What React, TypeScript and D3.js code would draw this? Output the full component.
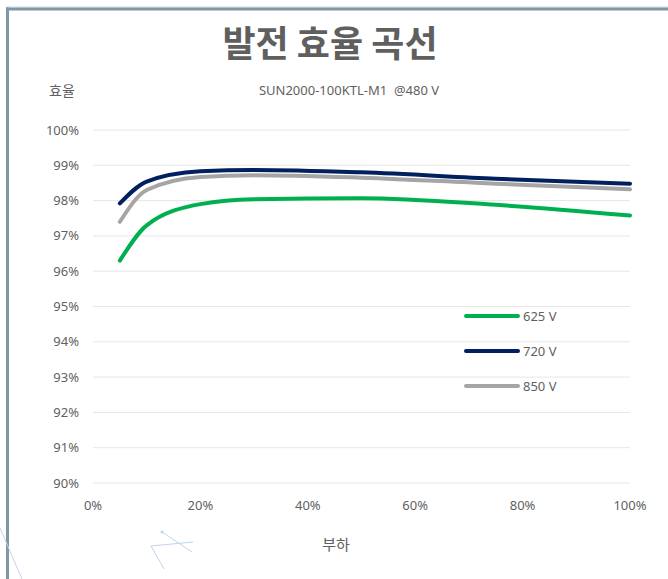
import { useEffect, useRef } from "react";
import * as d3 from "d3";

const W = 668;
const H = 579;

const title = "발전 효율 곡선";
const subtitle = "SUN2000-100KTL-M1  @480 V";
const yTitle = "효율";
const xTitle = "부하";

// load (%) and efficiency (%) per DC voltage
const loads = [5, 10, 20, 30, 50, 75, 100];
const eff625 = [96.3, 97.3, 97.9, 98.04, 98.07, 97.88, 97.58];
const eff720 = [97.92, 98.54, 98.83, 98.87, 98.8, 98.62, 98.48];
const eff850 = [97.4, 98.3, 98.67, 98.72, 98.65, 98.48, 98.32];

const seriesNames = ["625 V", "720 V", "850 V"];
const seriesColors = ["#00b050", "#002060", "#a5a5a5"];

const xTicks = [0, 20, 40, 60, 80, 100];
const yTicks = [90, 91, 92, 93, 94, 95, 96, 97, 98, 99, 100];

const KR = "'Noto Sans CJK KR', 'Noto Sans', sans-serif";
const NUM = "'Noto Sans', 'Open Sans', sans-serif";
const TEXT = "#5f5f5f";

export default function App() {
  const svgRef = useRef<SVGSVGElement>(null);

  useEffect(() => {
    const svg = d3.select(svgRef.current);
    if (!svgRef.current) return;
    svg.selectAll("*").remove();

    const x = d3.scaleLinear().domain([0, 100]).range([93, 630]);
    const y = d3.scaleLinear().domain([90, 100]).range([483, 130]);

    svg.append("rect").attr("width", W).attr("height", H).attr("fill", "#fff");

    // frame
    svg.append("line").attr("x1", 6).attr("x2", W).attr("y1", 7).attr("y2", 7)
      .attr("stroke", "#d6dde0").attr("stroke-width", 1);
    svg.append("line").attr("x1", 6).attr("x2", W).attr("y1", 9).attr("y2", 9)
      .attr("stroke", "#7f98a4").attr("stroke-width", 3);
    svg.append("line").attr("x1", 7.5).attr("x2", 7.5).attr("y1", 7.5).attr("y2", H)
      .attr("stroke", "#7f98a4").attr("stroke-width", 3);

    // decorative faint lines bottom-left
    const deco = svg.append("g").attr("stroke", "#c3d3ec").attr("stroke-width", 1).attr("fill", "none");
    deco.append("line").attr("x1", 0).attr("y1", 528).attr("x2", 22).attr("y2", 579);
    deco.append("line").attr("x1", 151).attr("y1", 546).attr("x2", 193).attr("y2", 542);
    deco.append("line").attr("x1", 162).attr("y1", 532).attr("x2", 192).attr("y2", 552);
    deco.append("line").attr("x1", 151).attr("y1", 546).attr("x2", 164).attr("y2", 569);
    svg.append("circle").attr("cx", 162).attr("cy", 532).attr("r", 1.5).attr("fill", "#c3d3ec");

    // gridlines
    yTicks.forEach((t) => {
      svg.append("line")
        .attr("x1", x(0)).attr("x2", x(100))
        .attr("y1", y(t)).attr("y2", y(t))
        .attr("stroke", "#e6e6e6").attr("stroke-width", 1);
    });

    // y tick labels
    yTicks.forEach((t) => {
      svg.append("text")
        .attr("x", 79).attr("y", y(t) + 4.5)
        .attr("text-anchor", "end")
        .attr("font-family", NUM).attr("font-size", "13px")
        .attr("fill", TEXT)
        .text(`${t}%`);
    });

    // x tick labels
    xTicks.forEach((t) => {
      svg.append("text")
        .attr("x", x(t)).attr("y", 510)
        .attr("text-anchor", "middle")
        .attr("font-family", NUM).attr("font-size", "13px")
        .attr("fill", TEXT)
        .text(`${t}%`);
    });

    // titles
    svg.append("text")
      .attr("x", 330).attr("y", 57)
      .attr("text-anchor", "middle")
      .attr("font-family", KR).attr("font-weight", "bold").attr("font-size", "36px")
      .attr("fill", TEXT)
      .text(title);
    svg.append("text")
      .attr("x", 349).attr("y", 95)
      .attr("text-anchor", "middle")
      .attr("font-family", NUM).attr("font-size", "13px")
      .attr("fill", TEXT)
      .style("white-space", "pre")
      .text(subtitle);
    svg.append("text")
      .attr("x", 62).attr("y", 96)
      .attr("text-anchor", "middle")
      .attr("font-family", KR).attr("font-size", "14px")
      .attr("fill", TEXT)
      .text(yTitle);
    svg.append("text")
      .attr("x", 336).attr("y", 550)
      .attr("text-anchor", "middle")
      .attr("font-family", KR).attr("font-size", "15px")
      .attr("fill", TEXT)
      .text(xTitle);

    // lines
    const allSeries = [eff625, eff720, eff850];
    const line = d3.line<number>()
      .x((_, i) => x(loads[i]))
      .y((d) => y(d))
      .curve(d3.curveMonotoneX);

    [0, 2, 1].forEach((si) => {
      svg.append("path")
        .datum(allSeries[si])
        .attr("fill", "none")
        .attr("stroke", seriesColors[si])
        .attr("stroke-width", 4)
        .attr("stroke-linecap", "round")
        .attr("stroke-linejoin", "round")
        .attr("d", line);
    });

    // legend
    const legendY = [316, 351, 386];
    seriesNames.forEach((name, i) => {
      svg.append("line")
        .attr("x1", 466).attr("x2", 518)
        .attr("y1", legendY[i]).attr("y2", legendY[i])
        .attr("stroke", seriesColors[i]).attr("stroke-width", 4)
        .attr("stroke-linecap", "round");
      svg.append("text")
        .attr("x", 523).attr("y", legendY[i] + 5)
        .attr("font-family", NUM).attr("font-size", "13px")
        .attr("fill", TEXT)
        .text(name);
    });
  }, []);

  return (
    <svg
      ref={svgRef}
      width={W}
      height={H}
      style={{ position: "absolute", left: 0, top: 0, display: "block" }}
    />
  );
}
